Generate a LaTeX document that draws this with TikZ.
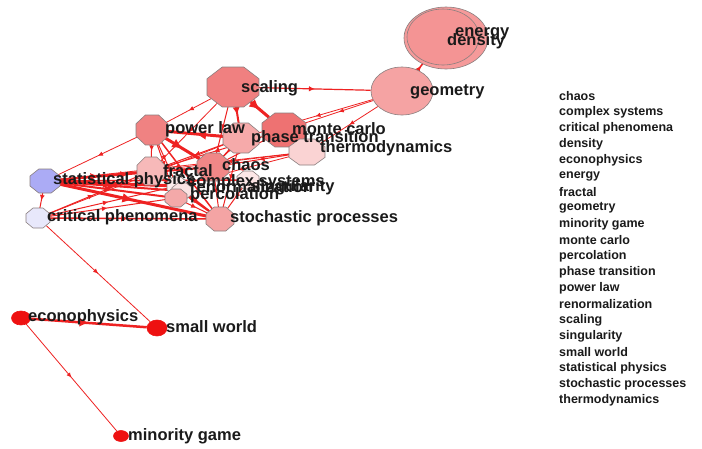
\documentclass[tikz,border=0pt]{standalone}
\usepackage{fontspec}
\setmainfont{Liberation Sans}
\usetikzlibrary{shapes.geometric,decorations.markings,arrows.meta,backgrounds,calc}

\definecolor{edgered}{HTML}{EE2222}
\definecolor{octline}{HTML}{8A7F7F}
\definecolor{labtext}{HTML}{1A1A1A}
\definecolor{cScaling}{HTML}{F08080}
\definecolor{cPower}{HTML}{F08282}
\definecolor{cMonte}{HTML}{EE7272}
\definecolor{cPhase}{HTML}{F6AAAA}
\definecolor{cThermo}{HTML}{FAD3D3}
\definecolor{cChaos}{HTML}{F18787}
\definecolor{cFractal}{HTML}{F7B9B9}
\definecolor{cComplex}{HTML}{FCECEC}
\definecolor{cRenorm}{HTML}{FBE3E3}
\definecolor{cSing}{HTML}{FCE6E6}
\definecolor{cPerc}{HTML}{F4A9A9}
\definecolor{cStoch}{HTML}{F4A4A4}
\definecolor{cStat}{HTML}{ABABF5}
\definecolor{cCrit}{HTML}{E8E8FB}
\definecolor{cGeo}{HTML}{F5A3A3}
\definecolor{cEnergy}{HTML}{F59A9A}
\definecolor{cDensity}{HTML}{F49494}
\definecolor{cRed}{HTML}{EE1111}

\tikzset{
  hub/.style={ellipse, draw=none, inner sep=0pt},
  oct/.style={draw=octline, line width=0.6pt},
  ell/.style={ellipse, draw=octline, line width=0.6pt, inner sep=0pt},
  lab/.style={anchor=west, inner sep=0pt, text=labtext,
    font=\fontsize{16.5}{18}\selectfont\bfseries},
  leg/.style={anchor=west, inner sep=0pt, text=labtext,
    font=\fontsize{12.5}{14}\selectfont\bfseries},
  link/.style={draw=edgered, line width=#1, postaction={decorate},
    decoration={markings, mark=at position 0.5 with
      {\arrow[edgered]{Latex[length=3pt 2.5, width=2.5pt 2.5]}}}},
  link/.default=0.8pt
}

% name, x, y, rx, ry, colour
\newcommand\octnode[6]{%
  \node[hub, minimum width=2*#4pt, minimum height=2*#5pt] (#1) at (#2,#3) {};
  \filldraw[oct, fill=#6, shift={(#1.center)}]
    (22.5:1.082*#4pt and 1.082*#5pt) -- (67.5:1.082*#4pt and 1.082*#5pt) --
    (112.5:1.082*#4pt and 1.082*#5pt) -- (157.5:1.082*#4pt and 1.082*#5pt) --
    (202.5:1.082*#4pt and 1.082*#5pt) -- (247.5:1.082*#4pt and 1.082*#5pt) --
    (292.5:1.082*#4pt and 1.082*#5pt) -- (337.5:1.082*#4pt and 1.082*#5pt) -- cycle;
}

\begin{document}
\begin{tikzpicture}[x=1pt, y=-1pt]
\useasboundingbox (0,0) rectangle (702,448);

% ---------- nodes ----------
\octnode{scaling}{233}{87}{26}{20}{cScaling}
\node[ell, fill=cGeo, minimum width=62pt, minimum height=48pt] (geometry) at (402,91) {};
\node[ell, fill=cEnergy, minimum width=84pt, minimum height=62pt] (energy) at (446,38) {};
\node[ell, fill=cDensity, minimum width=72pt, minimum height=56pt] (density) at (443,37) {};
\octnode{powerlaw}{152}{130}{16}{15}{cPower}
\octnode{phase}{241}{138}{18}{15}{cPhase}
\octnode{monte}{284}{130}{22}{17}{cMonte}
\octnode{thermo}{307}{152}{18}{13}{cThermo}
\octnode{fractal}{151}{171}{14}{14}{cFractal}
\octnode{chaos}{213}{167}{16}{14}{cChaos}
\octnode{singular}{248}{180}{11}{9}{cSing}
\octnode{complex}{177}{186}{10}{9}{cComplex}
\octnode{renorm}{182}{191}{10}{8}{cRenorm}
\octnode{percol}{176}{198}{11}{9}{cPerc}
\octnode{stoch}{220}{219}{14}{12}{cStoch}
\octnode{statphys}{45}{181}{15}{12}{cStat}
\octnode{critical}{38}{218}{12}{10}{cCrit}
\node[ell, fill=cRed, draw=cRed, minimum width=19pt, minimum height=14pt] (econo) at (21,318) {};
\node[ell, fill=cRed, draw=cRed, minimum width=20pt, minimum height=16pt] (smallworld) at (157,328) {};
\node[ell, fill=cRed, draw=cRed, minimum width=15pt, minimum height=11pt] (minority) at (121,436) {};

% ---------- labels ----------
\node[lab] (l-energy) at (455,34) {energy};
\node[lab] (l-density) at (447,41) {density};
\node[lab] (l-geometry) at (410,92) {geometry};
\node[lab] (l-scaling) at (241,88) {scaling};
\node[lab] (l-powerlaw) at (165,129) {power law};
\node[lab] (l-monte) at (292,129) {monte carlo};
\node[lab] (l-phase) at (251,138) {phase transition};
\node[lab] (l-thermo) at (320,148) {thermodynamics};
\node[lab] (l-chaos) at (222,165) {chaos};
\node[lab] (l-fractal) at (163,171) {fractal};
\node[lab] (l-statphys) at (53,180) {statistical physics};
\node[lab] (l-complex) at (187,182) {complex systems};
\node[lab] (l-renorm) at (190,187) {renormalization};
\node[lab] (l-singular) at (251,187) {singularity};
\node[lab] (l-percol) at (190,195) {percolation};
\node[lab] (l-critical) at (47,217) {critical phenomena};
\node[lab] (l-stoch) at (230,218) {stochastic processes};
\node[lab] (l-econo) at (28,317) {econophysics};
\node[lab] (l-smallworld) at (166,327) {small world};
\node[lab] (l-minority) at (128,436) {minority game};

% ---------- legend ----------
\foreach \t [count=\i from 0] in {chaos,complex systems,critical phenomena,density,econophysics,energy,fractal,geometry,minority game,monte carlo,percolation,phase transition,power law,renormalization,scaling,singularity,small world,statistical physics,stochastic processes,thermodynamics}
  \node[leg] (leg\i) at (559,96+16*\i) {\t};

% ---------- edges ----------
\begin{scope}[on background layer]
\fill[white] (0,0) rectangle (702,448);
\draw[link=1.2pt] (scaling) -- (geometry);
\draw[link] (scaling) -- (powerlaw);
\draw[link=3pt] (scaling) -- (monte);
\draw[link=2pt] (scaling) -- (phase);
\draw[link=1pt] (scaling) -- (chaos);
\draw[link] (scaling) -- (fractal);
\draw[link=1.5pt] (geometry) -- (density);
\draw[link] (geometry) -- (monte);
\draw[link] (geometry) -- (thermo);
\draw[link] (geometry) -- (phase);
\draw[link] (powerlaw) -- (statphys);
\draw[link=1pt] (powerlaw) -- (fractal);
\draw[link=3pt] (powerlaw) -- (chaos);
\draw[link=3pt] (phase) -- (powerlaw);
\draw[link=1.5pt] (powerlaw) -- (stoch);
\draw[link=1pt] (powerlaw) -- (percol);
\draw[link=1pt] (powerlaw) -- (complex);
\draw[link=1pt] (monte) -- (chaos);
\draw[link=1pt] (monte) -- (fractal);
\draw[link] (thermo) -- (fractal);
\draw[link] (thermo) -- (complex);
\draw[link=1pt] (thermo) -- (chaos);
\draw[link] (thermo) -- (statphys);
\draw[link=1.5pt] (phase) -- (chaos);
\draw[link=1pt] (phase) -- (fractal);
\draw[link=1pt] (phase) -- (stoch);
\draw[link] (phase) -- (critical);
\draw[link=1pt] (statphys) -- (critical);
\draw[link=2pt] (statphys) -- (fractal);
\draw[link=2pt] (statphys) -- (chaos);
\draw[link=3pt] (statphys) -- (complex);
\draw[link=2pt] (statphys) -- (renorm);
\draw[link=2pt] (statphys) -- (percol);
\draw[link=3pt] (statphys) -- (stoch);
\draw[link=1.5pt] (statphys) -- (singular);
\draw[link=1.5pt] (critical) -- (stoch);
\draw[link=1pt] (critical) -- (percol);
\draw[link=1pt] (critical) -- (complex);
\draw[link=1pt] (critical) -- (fractal);
\draw[link] (critical) -- (smallworld);
\draw[link=1pt] (chaos) -- (stoch);
\draw[link=1pt] (percol) -- (stoch);
\draw[link=1.5pt] (complex) -- (stoch);
\draw[link=1.5pt] (fractal) -- (stoch);
\draw[link=1pt] (renorm) -- (stoch);
\draw[link=1pt] (singular) -- (stoch);
\draw[link=2.5pt] (econo) -- (smallworld);
\draw[link] (econo) -- (minority);
\end{scope}
\end{tikzpicture}
\end{document}
